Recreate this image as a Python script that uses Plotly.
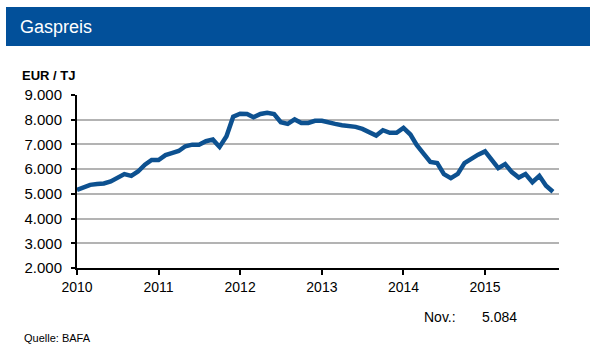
import plotly.graph_objects as go
import pandas as pd

# Monthly gas price (EUR / TJ), Jan 2010 - Nov 2015
months = pd.date_range("2010-01-01", "2015-11-01", freq="MS").strftime("%Y-%m-%d").tolist()
prices = [
    5160, 5270, 5365, 5400, 5420, 5500, 5635, 5800, 5730, 5905, 6180, 6370,
    6370, 6570, 6650, 6735, 6925, 6990, 6990, 7130, 7195, 6900, 7330, 8120,
    8240, 8230, 8100, 8230, 8280, 8230, 7900, 7830, 8010, 7870, 7870, 7955,
    7955, 7870, 7830, 7780, 7765, 7710, 7630, 7495, 7360, 7575, 7470, 7470,
    7670, 7400, 6980, 6625, 6290, 6245, 5800, 5635, 5810, 6245, 6435, 6585,
    6720, 6380, 6040, 6205, 5880, 5660, 5800, 5470, 5730, 5325, 5084,
]
y_ticks = [2000, 3000, 4000, 5000, 6000, 7000, 8000, 9000]
y_labels = ["2.000", "3.000", "4.000", "5.000", "6.000", "7.000", "8.000", "9.000"]
x_ticks = ["2010-01-01", "2011-01-01", "2012-01-01", "2013-01-01", "2014-01-01", "2015-01-01"]
x_labels = ["2010", "2011", "2012", "2013", "2014", "2015"]
last_label = "Nov.:"
last_value = "5.084"

FONT = "Arial, Liberation Sans, sans-serif"
W, H = 602, 358
L, R, T, B = 77, 43, 95, 90
pw, ph = W - L - R, H - T - B

def px(x):
    return (x - L) / pw

def py(y):
    return (H - B - y) / ph

fig = go.Figure()
fig.add_trace(go.Scatter(
    x=months, y=prices, mode="lines",
    line=dict(color="#0d5190", width=4.5, shape="linear"),
    hoverinfo="skip", showlegend=False,
))

fig.update_layout(
    width=W, height=H,
    margin=dict(l=L, r=R, t=T, b=B, pad=0),
    paper_bgcolor="white", plot_bgcolor="white",
    font=dict(family=FONT, size=14, color="black"),
    showlegend=False,
    xaxis=dict(
        type="date", range=["2010-01-01", "2015-11-28"],
        tickvals=x_ticks, ticktext=x_labels,
        ticks="outside", ticklen=5, tickwidth=2, tickcolor="black",
        showline=True, linecolor="black", linewidth=2,
        showgrid=False, zeroline=False,
        tickfont=dict(family=FONT, size=14, color="black"),
    ),
    yaxis=dict(
        range=[2000, 9000],
        tickvals=y_ticks, ticktext=y_labels,
        ticks="outside", ticklen=4, tickwidth=2, tickcolor="black",
        ticklabelstandoff=6,
        showline=True, linecolor="black", linewidth=2,
        showgrid=True, gridcolor="#b3b3b3", gridwidth=1.5,
        zeroline=False,
        tickfont=dict(family=FONT, size=15, color="black"),
    ),
    shapes=[
        dict(type="rect", xref="paper", yref="paper",
             x0=px(6), x1=px(590), y0=py(46), y1=py(7),
             fillcolor="#02509a", line=dict(width=0), layer="below"),
    ],
    annotations=[
        dict(text="Gaspreis", xref="paper", yref="paper", x=px(18), y=py(27),
             xanchor="left", yanchor="middle", showarrow=False,
             font=dict(family=FONT, size=18, color="white")),
        dict(text="<b>EUR / TJ</b>", xref="paper", yref="paper", x=px(20), y=py(75),
             xanchor="left", yanchor="middle", showarrow=False,
             font=dict(family=FONT, size=13, color="black")),
        dict(text=last_label, xref="paper", yref="paper", x=px(422), y=py(317),
             xanchor="left", yanchor="middle", showarrow=False,
             font=dict(family=FONT, size=14, color="black")),
        dict(text=last_value, xref="paper", yref="paper", x=px(519), y=py(317),
             xanchor="right", yanchor="middle", showarrow=False,
             font=dict(family=FONT, size=14, color="black")),
        dict(text="Quelle: BAFA", xref="paper", yref="paper", x=px(22), y=py(338),
             xanchor="left", yanchor="middle", showarrow=False,
             font=dict(family=FONT, size=11, color="black")),
    ],
)

fig.write_html("out.html", config={"displayModeBar": False},
               post_script="document.body.style.margin='0';")
